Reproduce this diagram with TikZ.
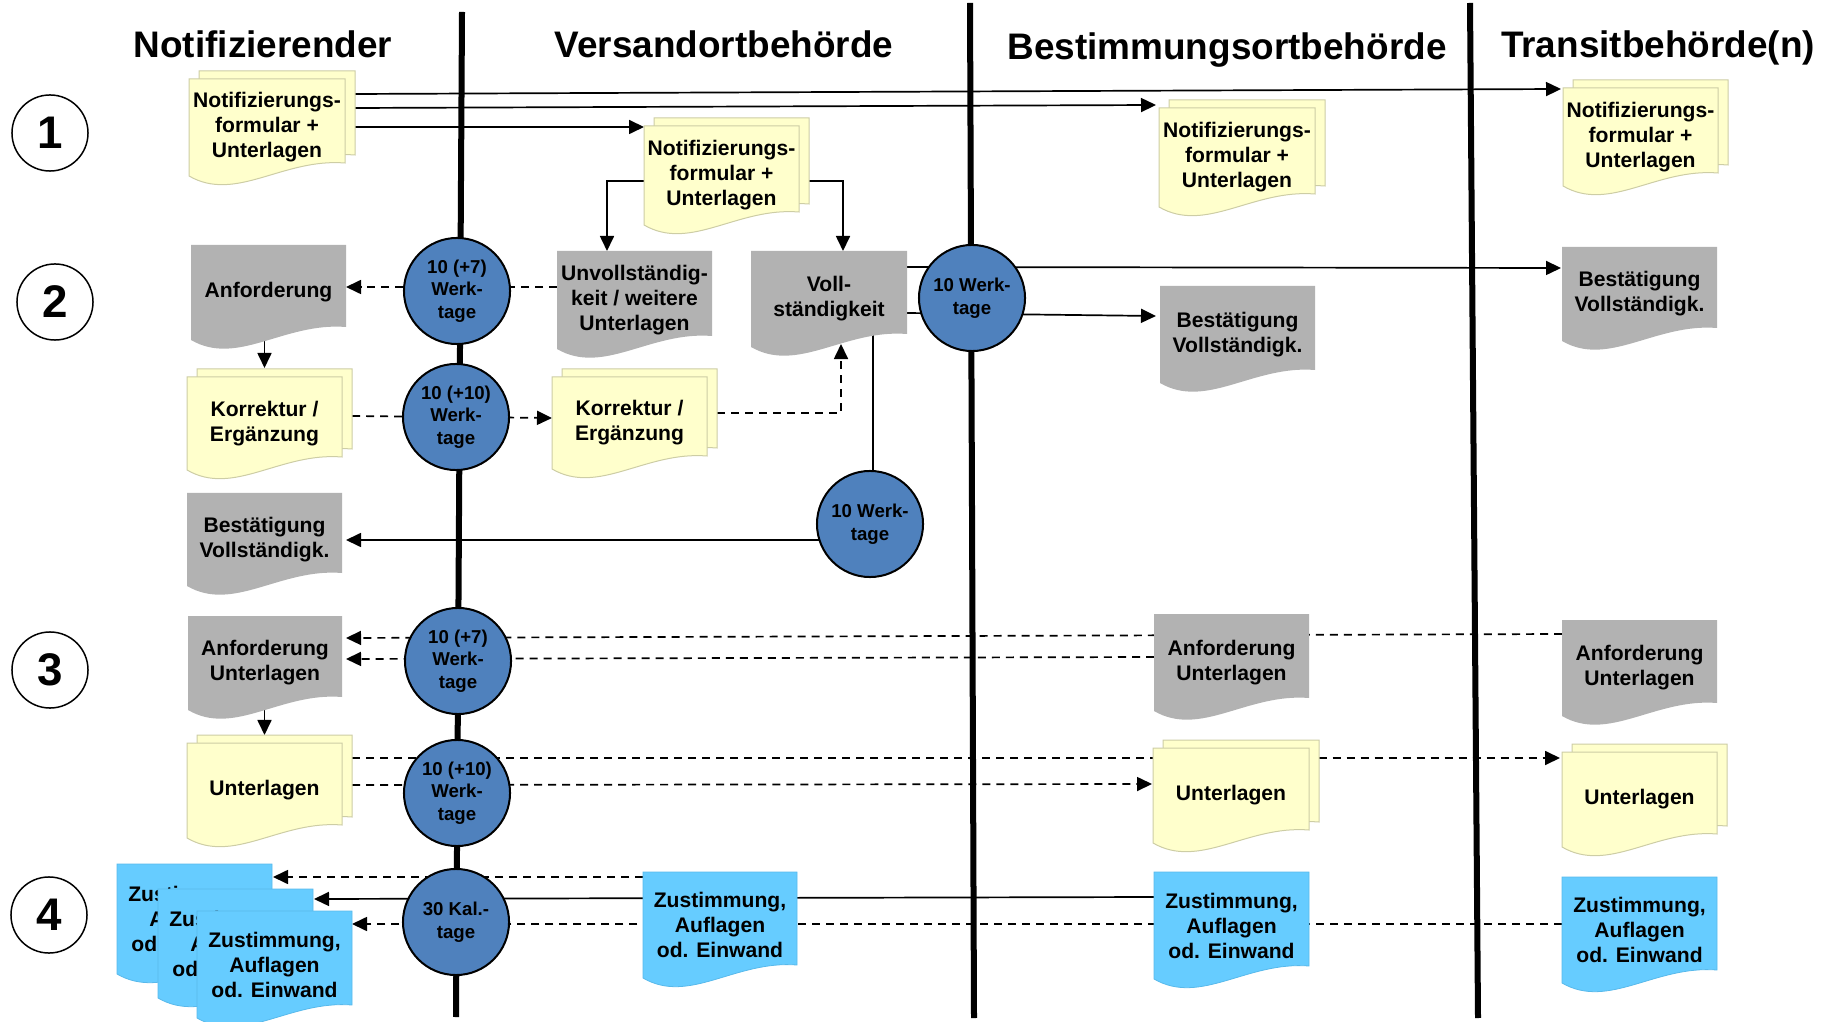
\documentclass[tikz,border=0pt]{standalone}
\usepackage{fontspec}
\setmainfont{Liberation Sans}
\usepackage{tikz}
\usetikzlibrary{positioning,arrows.meta,calc,backgrounds}
\definecolor{dokgelb}{RGB}{255,255,204}
\definecolor{dokrand}{RGB}{205,205,165}
\definecolor{dokgrau}{RGB}{178,178,178}
\definecolor{dokblau}{RGB}{102,204,255}
\definecolor{blaurand}{RGB}{88,185,235}
\definecolor{fristcol}{RGB}{79,129,189}
\tikzset{
  gelbdok/.style={fill=dokgelb, draw=dokrand, line width=0.01cm},
  graudok/.style={fill=dokgrau},
  blaudok/.style={fill=dokblau, draw=blaurand, line width=0.008cm},
  doktext/.style={inner sep=0pt, outer sep=0pt, align=center,
    font=\fontsize{6}{7.1}\selectfont\bfseries},
  frist/.style={circle, draw=black, line width=0.02cm, fill=fristcol,
    minimum size=1.06cm, inner sep=0pt, align=center,
    font=\fontsize{5.3}{6.4}\selectfont\bfseries},
  schritt/.style={circle, draw=black, line width=0.015cm, fill=white,
    minimum size=0.76cm, inner sep=0pt, font=\fontsize{13}{13}\selectfont\bfseries},
  titel/.style={anchor=base, font=\fontsize{10.5}{12}\selectfont\bfseries},
  spalte/.style={line width=0.06cm},
  linie/.style={line width=0.017cm},
  pfeil/.style={-{Triangle[length=0.15cm,width=0.14cm]}, line width=0.017cm},
  strich/.style={pfeil, dash pattern=on 0.08cm off 0.06cm},
}
% Dokumentform: Stil, x0, y0 (oben), x1, y1 (rechts unten)
\newcommand{\dokform}[5]{%
  \path[#1] ({#2},{#3}) -- ({#4},{#3}) -- ({#4},{#5})
    .. controls ({(#2)+0.6*((#4)-(#2))},{(#5)-5}) and ({(#2)+0.3*((#4)-(#2))},{(#5)+40})
    .. ({#2},{(#5)+13}) -- cycle;
}
% Dokument mit Text: Stil, Name, x0, y0, x1, y1, Text
\newcommand{\dokument}[7]{%
  \dokform{#1}{#3}{#4}{#5}{#6}
  \node[doktext, minimum width={((#5)-(#3))*0.01cm}, minimum height={((#6)+13-(#4))*0.01cm}]
    (#2) at ({((#3)+(#5))/2},{((#4)+(#6)+13)/2}) {#7};
}
% zwei Blaetter hintereinander
\newcommand{\dokstapel}[7]{%
  \dokform{#1}{(#3)+10}{(#4)-8}{(#5)+10}{(#6)-8}
  \dokument{#1}{#2}{#3}{#4}{#5}{#6}{#7}
}

\begin{document}
\begin{tikzpicture}[x=0.01cm, y=-0.01cm]
  \useasboundingbox (0,0) rectangle (1834,1022);

  % Spalten
  \draw[spalte] (462,12) -- (456,1017);
  \draw[spalte] (970,3) -- (974,1018);
  \draw[spalte] (1470,3) -- (1478,1018);

  \node[titel] (hnot) at (263,58) {Notifizierender};
  \node[titel] (hver) at (724,58) {Versandortbehörde};
  \node[titel] (hbes) at (1227,60) {Bestimmungsortbehörde};
  \node[titel] (htra) at (1658,58) {Transitbehörde(n)};

  % Schritte
  \node[schritt] (s1) at (50,133) {1};
  \node[schritt] (s2) at (55,302) {2};
  \node[schritt] (s3) at (50,670) {3};
  \node[schritt] (s4) at (49,915) {4};

  % Schritt 1
  \dokstapel{gelbdok}{notA}{189}{79}{345}{163}{Notifizierungs-\\formular +\\Unterlagen}
  \dokstapel{gelbdok}{notB}{644}{126}{799}{212}{Notifizierungs-\\formular +\\Unterlagen}
  \dokstapel{gelbdok}{notC}{1159}{108}{1315}{194}{Notifizierungs-\\formular +\\Unterlagen}
  \dokstapel{gelbdok}{notD}{1563}{88}{1718}{173}{Notifizierungs-\\formular +\\Unterlagen}

  % Schritt 2
  \dokument{graudok}{anf1}{191}{245}{346}{327}{Anforderung}
  \dokument{graudok}{unv}{557}{251}{712}{336}{Unvollständig-\\keit / weitere\\Unterlagen}
  \dokument{graudok}{voll}{751}{251}{907}{334}{Voll-\\ständigkeit}
  \dokument{graudok}{bestC}{1160}{286}{1315}{370}{Bestätigung\\Vollständigk.}
  \dokument{graudok}{bestD}{1562}{247}{1717}{328}{Bestätigung\\Vollständigk.}
  \dokstapel{gelbdok}{korA}{187}{377}{342}{457}{Korrektur /\\Ergänzung}
  \dokstapel{gelbdok}{korB}{552}{377}{707}{456}{Korrektur /\\Ergänzung}
  \dokument{graudok}{bestA}{187}{493}{342}{573}{Bestätigung\\Vollständigk.}

  % Schritt 3
  \dokument{graudok}{anfA}{188}{616}{342}{697}{Anforderung\\Unterlagen}
  \dokument{graudok}{anfC}{1154}{614}{1309}{698}{Anforderung\\Unterlagen}
  \dokument{graudok}{anfD}{1562}{620}{1717}{703}{Anforderung\\Unterlagen}
  \dokstapel{gelbdok}{untA}{187}{743}{342}{825}{Unterlagen}
  \dokstapel{gelbdok}{untC}{1153}{748}{1309}{830}{Unterlagen}
  \dokstapel{gelbdok}{untD}{1562}{752}{1717}{834}{Unterlagen}

  % Schritt 4
  \dokument{blaudok}{zusA1}{117}{864}{272}{961}{Zustimmung,\\Auflagen\\od. Einwand}
  \dokument{blaudok}{zusA2}{158}{889}{313}{985}{Zustimmung,\\Auflagen\\od. Einwand}
  \dokument{blaudok}{zusA3}{197}{911}{352}{1005}{Zustimmung,\\Auflagen\\od. Einwand}
  \dokument{blaudok}{zusB}{643}{872}{797}{965}{Zustimmung,\\Auflagen\\od. Einwand}
  \dokument{blaudok}{zusC}{1154}{872}{1309}{966}{Zustimmung,\\Auflagen\\od. Einwand}
  \dokument{blaudok}{zusD}{1562}{877}{1717}{970}{Zustimmung,\\Auflagen\\od. Einwand}

  % Fristen
  \node[frist] (f1) at (457,291) {10 (+7)\\Werk-\\tage};
  \node[frist] (f2) at (456,417) {10 (+10)\\Werk-\\tage};
  \node[frist] (f3) at (972,298) {10 Werk-\\tage};
  \node[frist] (f4) at (870,524) {10 Werk-\\tage};
  \node[frist] (f5) at (458,661) {10 (+7)\\Werk-\\tage};
  \node[frist] (f6) at (457,793) {10 (+10)\\Werk-\\tage};
  \node[frist] (f7) at (456,922) {30 Kal.-\\tage};

  \begin{scope}[on background layer]
    \draw[pfeil] ($(notA.north east)+(10,15)$) -- ($(notD.north west)+(-2,1)$);
    \draw[pfeil] ($(notA.north east)+(10,29)$) -- ($(notC.north west)+(-3,-3)$);
    \draw[pfeil] ($(notA.north east)+(10,48)$) -- ($(notB.north west)+(0,1)$);
    \draw[pfeil] ($(notB.north west)+(0,55)$) -| ($(unv.north west)+(50,0)$);
    \draw[pfeil] ($(notB.north east)+(10,55)$) -| ($(voll.north west)+(92,0)$);

    \draw[strich] ($(unv.north west)+(0,36)$) -- ($(anf1.north east)+(0,42)$);
    \draw[pfeil] ($(korA.north |- anf1.south)+(0,-5)$) -- ($(korA.north)+(0,-9)$);
    \draw[strich] ($(korA.north east)+(10,39)$) -- ($(korB.north west)+(0,41)$);
    \draw[strich] ($(korB.north east)+(10,36)$) -| ($(voll.south west)+(90,-3)$);
    \draw[pfeil] ($(voll.north east)+(0,16)$) -- ($(bestD.north west)+(-1,21)$);
    \draw[pfeil] ($(voll.north east)+(0,62)$) -- ($(bestC.north west)+(-4,30)$);
    \draw[linie] ($(f4.north)+(3,5)$) -- ($(f4.north |- voll.center)+(3,0)$);
    \draw[pfeil] ($(f4.center)+(0,16)$) -- ($(bestA.north east)+(4,47)$);

    \draw[strich] ($(anfD.north west)+(0,14)$) -- ($(anfA.north east)+(4,22)$);
    \draw[strich] ($(anfC.north west)+(0,43)$) -- ($(anfA.north east)+(4,43)$);
    \draw[pfeil] ($(untA.north |- anfA.south)+(0,-5)$) -- ($(untA.north)+(0,-8)$);
    \draw[strich] ($(untA.north east)+(10,15)$) -- ($(untD.north west)+(-2,6)$);
    \draw[strich] ($(untA.north east)+(10,42)$) -- ($(untC.north west)+(-1,36)$);

    \draw[strich] ($(zusB.north west)+(0,5)$) -- ($(zusA1.north east)+(1,13)$);
    \draw[pfeil] ($(zusC.north west)+(0,25)$) -- ($(zusA2.north east)+(1,10)$);
    \draw[strich] ($(zusD.north west)+(0,47)$) -- ($(zusA3.north east)+(0,13)$);
  \end{scope}
\end{tikzpicture}
\end{document}
